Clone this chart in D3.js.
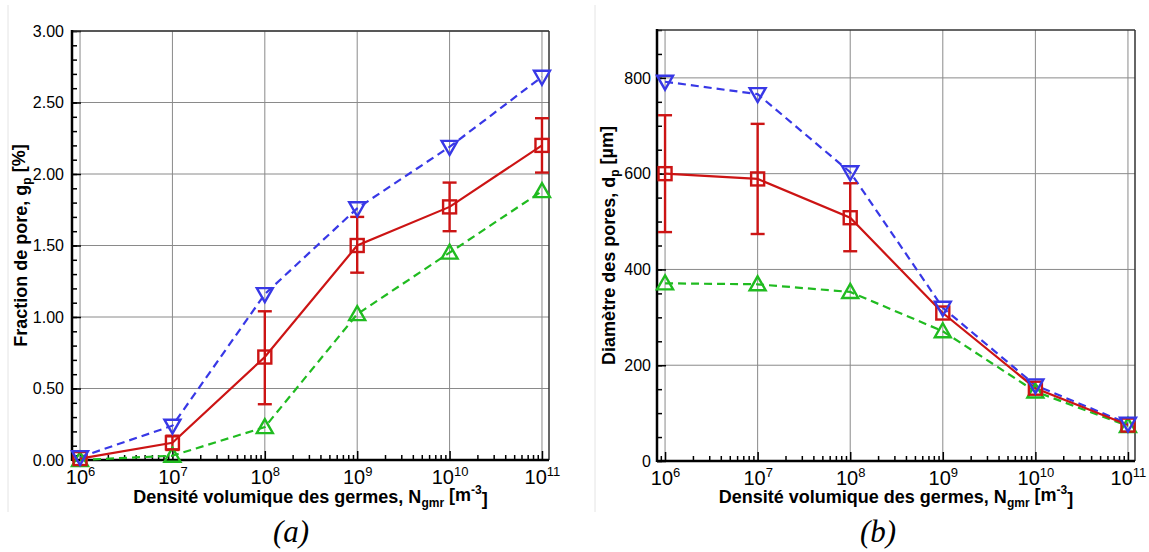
<!DOCTYPE html>
<html><head><meta charset="utf-8">
<script src="https://cdn.jsdelivr.net/npm/d3@7/dist/d3.min.js"></script>
<style>body{margin:0;background:#fff}svg{display:block}text{font-family:"Liberation Sans",Arial,sans-serif}</style>
</head><body><svg id="c" width="1149" height="552"></svg>
<script>
// ---- data ----
const xExps = [6, 7, 8, 9, 10, 11];
const xValues = [1e6, 1e7, 1e8, 1e9, 1e10, 1e11];

// panel (a): pore fraction g_p [%]
const fracMax   = [0.02, 0.24, 1.16, 1.76, 2.19, 2.68];
const fracMean  = [0.01, 0.12, 0.72, 1.50, 1.77, 2.20];
const fracLow   = [0.01, 0.07, 0.39, 1.31, 1.60, 2.01];
const fracHigh  = [0.01, 0.17, 1.04, 1.70, 1.94, 2.39];
const fracMin   = [0.00, 0.03, 0.23, 1.02, 1.45, 1.88];
const fracTicks = [0, 0.5, 1.0, 1.5, 2.0, 2.5, 3.0];

// panel (b): pore diameter d_p [µm]
const diamMax   = [792, 766, 603, 320, 158, 78];
const diamMean  = [600, 589, 508, 309, 152, 75];
const diamLow   = [478, 474, 438, 309, 152, 75];
const diamHigh  = [722, 704, 580, 309, 152, 75];
const diamMin   = [371, 369, 353, 271, 145, 73];
const diamTicks = [0, 200, 400, 600, 800];

// ---- drawing ----
const svg = d3.select("#c");
const RED = "#cc1414", BLUE = "#3838e6", GREEN = "#20bb20";
const SANS = '"Liberation Sans",Arial,Helvetica,sans-serif';

// faint panel borders
[8, 595].forEach(x => svg.append("line").attr("x1", x).attr("x2", x).attr("y1", 5).attr("y2", 512)
  .attr("stroke", "#e4e4e4").attr("stroke-width", 1));

function minorLog() {
  const m = [];
  for (let e = 5; e <= 11; e++) for (let k = 2; k <= 9; k++) m.push(k * Math.pow(10, e));
  return m;
}

function panel(opt) {
  const g = svg.append("g");
  const x = d3.scaleLog().domain([Math.pow(10, 5.913), Math.pow(10, 11.076)]).range([opt.x0, opt.x1]);
  const y = d3.scaleLinear().domain(opt.yDomain).range([opt.y0, opt.y1]);
  const [xl, xr] = x.range(), [yb, yt] = y.range();

  // grid
  g.append("g").selectAll("line").data(xValues).join("line")
    .attr("x1", d => x(d)).attr("x2", d => x(d)).attr("y1", yb).attr("y2", yt)
    .attr("stroke", "#8a8a8a").attr("stroke-width", 1);
  g.append("g").selectAll("line").data(opt.yTicks).join("line")
    .attr("x1", xl).attr("x2", xr).attr("y1", d => y(d)).attr("y2", d => y(d))
    .attr("stroke", "#8a8a8a").attr("stroke-width", 1);

  // x axis
  const minors = minorLog().filter(v => x(v) >= xl && x(v) <= xr);
  const gxm = g.append("g").attr("transform", `translate(0,${yb})`)
    .call(d3.axisBottom(x).tickValues(minors).tickFormat("").tickSizeInner(-5).tickSizeOuter(0));
  const gx = g.append("g").attr("transform", `translate(0,${yb})`)
    .call(d3.axisBottom(x).tickValues(xValues).tickSizeInner(-9).tickSizeOuter(0).tickPadding(10));
  [gxm, gx].forEach(a => { a.select(".domain").remove(); a.selectAll(".tick line").attr("stroke", "#000").attr("stroke-width", 1.5); });
  gx.selectAll(".tick text").each(function (d, i) {
    const t = d3.select(this).text("").attr("font-size", 20).style("font-family", SANS).attr("fill", "#000");
    t.append("tspan").text("10");
    t.append("tspan").attr("font-size", 13).attr("dy", "-0.62em").text(xExps[i]);
  });

  // y axis
  const gym = g.append("g").attr("transform", `translate(${xl},0)`)
    .call(d3.axisLeft(y).tickValues(d3.range(opt.yDomain[0], opt.yDomain[1] + 1e-9, opt.yMinor)).tickFormat("").tickSizeInner(-5).tickSizeOuter(0));
  const gy = g.append("g").attr("transform", `translate(${xl},0)`)
    .call(d3.axisLeft(y).tickValues(opt.yTicks).tickFormat(opt.yFmt).tickSizeInner(-9).tickSizeOuter(0).tickPadding(opt.yPad));
  [gym, gy].forEach(a => { a.select(".domain").remove(); a.selectAll(".tick line").attr("stroke", "#000").attr("stroke-width", 1.5); });
  gy.selectAll(".tick text").attr("font-size", 16).style("font-family", SANS).attr("fill", "#000");

  // frame
  g.append("line").attr("x1", xl).attr("x2", xr).attr("y1", yt).attr("y2", yt).attr("stroke", "#333").attr("stroke-width", 1.5);
  g.append("line").attr("x1", xr).attr("x2", xr).attr("y1", yt).attr("y2", yb).attr("stroke", "#333").attr("stroke-width", 1.5);
  g.append("line").attr("x1", xl).attr("x2", xr).attr("y1", yb).attr("y2", yb).attr("stroke", "#000").attr("stroke-width", 2.5);
  g.append("line").attr("x1", xl).attr("x2", xl).attr("y1", yt - 1).attr("y2", yb + 1).attr("stroke", "#000").attr("stroke-width", 2.5);

  // series lines
  const line = vals => d3.line().x((d, i) => x(xValues[i])).y(d => y(d))(vals);
  g.append("path").attr("d", line(opt.min)).attr("fill", "none").attr("stroke", GREEN).attr("stroke-width", 2.2).attr("stroke-dasharray", "8,5");
  g.append("path").attr("d", line(opt.max)).attr("fill", "none").attr("stroke", BLUE).attr("stroke-width", 2.2).attr("stroke-dasharray", "8,5");
  g.append("path").attr("d", line(opt.mean)).attr("fill", "none").attr("stroke", RED).attr("stroke-width", 2.2);

  // error bars
  const eb = g.append("g").attr("stroke", RED).attr("stroke-width", 2.4);
  xValues.forEach((xv, i) => {
    if (opt.high[i] - opt.low[i] < 1e-6) return;
    const cx = x(xv), a = y(opt.high[i]), b = y(opt.low[i]);
    eb.append("line").attr("x1", cx).attr("x2", cx).attr("y1", a).attr("y2", b);
    eb.append("line").attr("x1", cx - 7).attr("x2", cx + 7).attr("y1", a).attr("y2", a);
    eb.append("line").attr("x1", cx - 7).attr("x2", cx + 7).attr("y1", b).attr("y2", b);
  });

  // markers
  const tri = 8;
  g.append("g").selectAll("path").data(opt.min).join("path")
    .attr("d", (d, i) => { const cx = x(xValues[i]), cy = y(d); return `M${cx},${cy - tri}L${cx + tri},${cy + tri * 0.75}L${cx - tri},${cy + tri * 0.75}Z`; })
    .attr("fill", "none").attr("stroke", GREEN).attr("stroke-width", 2.4);
  g.append("g").selectAll("rect").data(opt.mean).join("rect")
    .attr("x", (d, i) => x(xValues[i]) - 6.5).attr("y", d => y(d) - 6.5).attr("width", 13).attr("height", 13)
    .attr("fill", "none").attr("stroke", RED).attr("stroke-width", 2.4);
  g.append("g").selectAll("path").data(opt.max).join("path")
    .attr("d", (d, i) => { const cx = x(xValues[i]), cy = y(d); return `M${cx},${cy + tri}L${cx + tri},${cy - tri * 0.75}L${cx - tri},${cy - tri * 0.75}Z`; })
    .attr("fill", "none").attr("stroke", BLUE).attr("stroke-width", 2.4);

  // x title
  const cxm = (xl + xr) / 2;
  const xt = g.append("text").attr("x", cxm).attr("y", 503).attr("text-anchor", "middle")
    .attr("font-size", 18).attr("font-weight", "bold").style("font-family", SANS).attr("fill", "#000");
  xt.append("tspan").text("Densité volumique des germes, N");
  xt.append("tspan").attr("font-size", 12).attr("dy", "0.3em").text("gmr");
  xt.append("tspan").attr("dy", "-0.3em").text(" [m");
  xt.append("tspan").attr("font-size", 12).attr("dy", "-0.6em").text("-3");
  xt.append("tspan").attr("dy", "0.6em").text("]");

  // y title
  const yt_ = g.append("text").attr("transform", `translate(${opt.yTitleX},${(yb + yt) / 2}) rotate(-90)`)
    .attr("text-anchor", "middle").attr("font-size", 18).attr("font-weight", "bold").style("font-family", SANS).attr("fill", "#000");
  yt_.append("tspan").text(opt.yTitle[0]);
  yt_.append("tspan").attr("font-size", 12).attr("dy", "0.3em").text(opt.yTitle[1]);
  yt_.append("tspan").attr("dy", "-0.3em").text(opt.yTitle[2]);

  // caption
  svg.append("text").attr("x", opt.capX).attr("y", 542).attr("text-anchor", "middle")
    .style("font-family", '"Liberation Serif","Times New Roman",serif').style("font-style", "italic")
    .attr("font-size", 31).attr("fill", "#000").text(opt.caption);
}

panel({
  x0: 72, x1: 549, y0: 460, y1: 31, yDomain: [0, 3], yTicks: fracTicks, yMinor: 0.1,
  yFmt: d3.format(".2f"), yPad: 8,
  max: fracMax, mean: fracMean, low: fracLow, high: fracHigh, min: fracMin,
  yTitle: ["Fraction de pore, g", "p", " [%]"], yTitleX: 27, caption: "(a)", capX: 291
});
panel({
  x0: 657, x1: 1135, y0: 461, y1: 30, yDomain: [0, 900], yTicks: diamTicks, yMinor: 50,
  yFmt: d3.format("d"), yPad: 6,
  max: diamMax, mean: diamMean, low: diamLow, high: diamHigh, min: diamMin,
  yTitle: ["Diamètre des pores, d", "p", " [µm]"], yTitleX: 615, caption: "(b)", capX: 878
});
</script></body></html>
